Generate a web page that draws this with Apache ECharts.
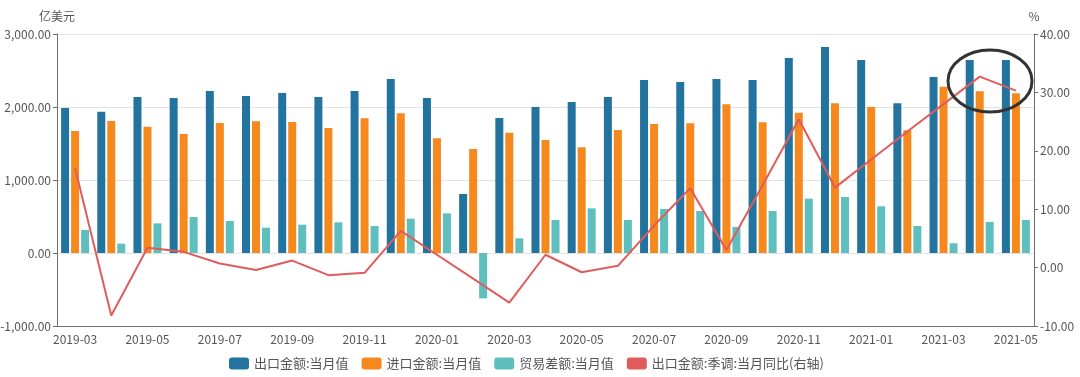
<!DOCTYPE html>
<html>
<head>
<meta charset="utf-8">
<script src="https://cdn.jsdelivr.net/npm/echarts@6/dist/echarts.min.js"></script>
<style>
  html, body { margin: 0; padding: 0; background: #fff; }
  #main { width: 1080px; height: 377px; }
</style>
</head>
<body>
<div id="main"></div>
<script>
// 月份
var months = ['2019-03','2019-04','2019-05','2019-06','2019-07','2019-08','2019-09','2019-10','2019-11','2019-12',
  '2020-01','2020-02','2020-03','2020-04','2020-05','2020-06','2020-07','2020-08','2020-09','2020-10','2020-11','2020-12',
  '2021-01','2021-02','2021-03','2021-04','2021-05'];
// 出口金额:当月值 (亿美元)
var exportVal = [1986, 1935, 2137, 2123, 2219, 2150, 2192, 2137, 2219, 2384, 2123, 808, 1849, 2000, 2068, 2137,
  2370, 2342, 2384, 2370, 2671, 2822, 2644, 2050, 2411, 2644, 2644];
// 进口金额:当月值
var importVal = [1671, 1808, 1730, 1630, 1781, 1804, 1795, 1712, 1845, 1913, 1571, 1425, 1648, 1548, 1447, 1685,
  1767, 1776, 2037, 1790, 1922, 2050, 2000, 1680, 2278, 2215, 2187];
// 贸易差额:当月值
var balanceVal = [315, 128, 406, 493, 438, 347, 388, 420, 370, 470, 543, -621, 201, 452, 612, 452,
  603, 575, 356, 575, 744, 767, 640, 370, 133, 425, 452];
// 出口金额:季调:当月同比 (%)
var yoyVal = [17.0, -8.2, 3.4, 2.7, 0.7, -0.4, 1.2, -1.3, -0.9, 6.3, 2.2, -1.9, -6.0, 2.2, -0.8, 0.3,
  7.2, 13.6, 3.0, 14.1, 25.4, 13.7, 18.5, 23.3, 28.0, 32.7, 30.3];

var font = '"Noto Sans CJK SC", "Noto Sans", sans-serif';
var myChart = echarts.init(document.getElementById('main'));

function fmt(v) {
  return Number(v).toLocaleString('en-US', {minimumFractionDigits: 2, maximumFractionDigits: 2});
}

var option = {
  animation: false,
  textStyle: { fontFamily: font },
  grid: { left: 57, right: 46, top: 34, bottom: 51, outerBoundsMode: 'none' },
  legend: {
    bottom: 2,
    left: 224,
    icon: 'roundRect',
    itemWidth: 20,
    itemHeight: 12,
    itemGap: 13,
    textStyle: { fontSize: 13, color: '#555', fontFamily: font },
    data: ['出口金额:当月值', '进口金额:当月值', '贸易差额:当月值', '出口金额:季调:当月同比(右轴)']
  },
  xAxis: {
    type: 'category',
    data: months,
    axisLine: { onZero: false, lineStyle: { color: '#6e6e6e' } },
    axisTick: { alignWithLabel: true, interval: 1, lineStyle: { color: '#6e6e6e' } },
    axisLabel: { interval: 1, color: '#555', fontSize: 12, margin: 7 }
  },
  yAxis: [{
    type: 'value',
    name: '亿美元',
    nameGap: 12,
    nameTextStyle: { color: '#555', fontSize: 12 },
    min: -1000, max: 3000, interval: 1000,
    axisLine: { show: true, lineStyle: { color: '#6e6e6e' } },
    axisTick: { show: true, length: 4 },
    axisLabel: { color: '#555', fontSize: 12, margin: 6, formatter: fmt },
    splitLine: { lineStyle: { color: '#e3e3e3' } }
  }, {
    type: 'value',
    name: '%',
    nameGap: 12,
    nameTextStyle: { color: '#555', fontSize: 12 },
    min: -10, max: 40, interval: 10,
    axisLine: { show: true, lineStyle: { color: '#6e6e6e' } },
    axisTick: { show: true, length: 4 },
    axisLabel: { color: '#555', fontSize: 12, margin: 6, formatter: fmt },
    splitLine: { show: false }
  }],
  series: [{
    name: '出口金额:当月值',
    type: 'bar',
    barWidth: 8,
    barGap: '25%',
    itemStyle: { color: '#22749f' },
    data: exportVal
  }, {
    name: '进口金额:当月值',
    type: 'bar',
    barWidth: 8,
    barGap: '25%',
    itemStyle: { color: '#f5891e' },
    data: importVal
  }, {
    name: '贸易差额:当月值',
    type: 'bar',
    barWidth: 8,
    barGap: '25%',
    itemStyle: { color: '#5fbfbf' },
    data: balanceVal
  }, {
    name: '出口金额:季调:当月同比(右轴)',
    type: 'line',
    yAxisIndex: 1,
    showSymbol: false,
    symbol: 'none',
    lineStyle: { color: '#e05c5c', width: 2 },
    itemStyle: { color: '#e05c5c' },
    data: yoyVal,
    z: 5
  }],
  graphic: [{
    type: 'ellipse',
    shape: { cx: 990, cy: 81, rx: 42, ry: 31 },
    style: { fill: 'none', stroke: '#333', lineWidth: 3 },
    z: 100
  }]
};

myChart.setOption(option, true);
</script>
</body>
</html>
